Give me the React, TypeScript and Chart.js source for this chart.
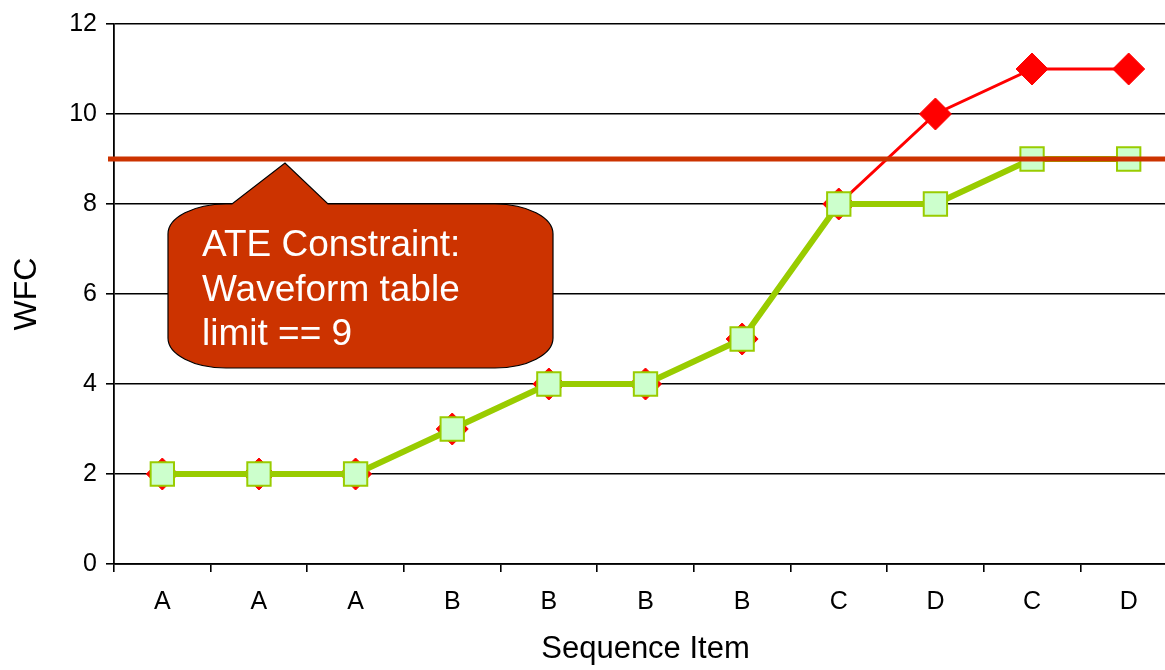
import { useEffect, useRef } from "react";
import { Chart, registerables } from "chart.js";

Chart.register(...registerables);

// Sequence items along the x axis
const categories = ["A", "A", "A", "B", "B", "B", "B", "C", "D", "C", "D"];
// Waveform count without the tester limit
const wfcUnconstrained = [2, 2, 2, 3, 4, 4, 5, 8, 10, 11, 11];
// Waveform count once the table limit is respected
const wfcConstrained = [2, 2, 2, 3, 4, 4, 5, 8, 8, 9, 9];
// Waveform table limit of the ATE
const wfcLimit = 9;
// Y axis range and step
const yMin = 0;
const yMax = 12;
const yStep = 2;
// Callout text
const calloutLines = ["ATE Constraint:", "Waveform table", "limit == 9"];

const FONT = "'Liberation Sans', Arial, Helvetica, sans-serif";

const limitCalloutPlugin = {
  id: "limitCallout",
  afterDatasetsDraw(chart: any) {
    const { ctx, chartArea, scales } = chart;
    const yLine = scales.y.getPixelForValue(wfcLimit);
    ctx.save();

    // horizontal constraint line
    ctx.strokeStyle = "#CC3300";
    ctx.lineWidth = 5;
    ctx.beginPath();
    ctx.moveTo(chartArea.left - 6, yLine);
    ctx.lineTo(chartArea.right, yLine);
    ctx.stroke();

    // speech-bubble callout
    const L = chartArea.left + 54;
    const R = chartArea.left + 439;
    const T = chartArea.top + 180;
    const B = chartArea.top + 344;
    const rx = 58;
    const ry = 30;
    const tailL = L + 64;
    const tailR = L + 160;
    const apexX = L + 117;
    const apexY = chartArea.top + 139;

    ctx.beginPath();
    ctx.moveTo(L + rx, T);
    ctx.lineTo(tailL, T);
    ctx.lineTo(apexX, apexY);
    ctx.lineTo(tailR, T);
    ctx.lineTo(R - rx, T);
    ctx.ellipse(R - rx, T + ry, rx, ry, 0, -Math.PI / 2, 0);
    ctx.lineTo(R, B - ry);
    ctx.ellipse(R - rx, B - ry, rx, ry, 0, 0, Math.PI / 2);
    ctx.lineTo(L + rx, B);
    ctx.ellipse(L + rx, B - ry, rx, ry, 0, Math.PI / 2, Math.PI);
    ctx.lineTo(L, T + ry);
    ctx.ellipse(L + rx, T + ry, rx, ry, 0, Math.PI, Math.PI * 1.5);
    ctx.closePath();
    ctx.fillStyle = "#CC3300";
    ctx.fill();
    ctx.strokeStyle = "#000000";
    ctx.lineWidth = 1.2;
    ctx.stroke();

    ctx.fillStyle = "#FFFFFF";
    ctx.font = `37px ${FONT}`;
    ctx.textAlign = "left";
    ctx.textBaseline = "alphabetic";
    calloutLines.forEach((line, i) => {
      ctx.fillText(line, L + 34, T + 52 + i * 44.5);
    });

    ctx.restore();
  },
};

export default function App() {
  const canvasRef = useRef<HTMLCanvasElement | null>(null);

  useEffect(() => {
    const canvas = canvasRef.current;
    if (!canvas) return;
    Chart.defaults.font.family = FONT;
    Chart.defaults.color = "#000000";

    const chart = new Chart(canvas, {
      type: "line",
      data: {
        labels: categories,
        datasets: [
          {
            label: "Constrained",
            data: wfcConstrained,
            order: 0,
            borderColor: "#99CC00",
            borderWidth: 6,
            pointStyle: "rect",
            pointRadius: 16.5,
            pointHoverRadius: 16.5,
            pointBackgroundColor: "#CCFFCC",
            pointBorderColor: "#99CC00",
            pointBorderWidth: 2,
            tension: 0,
            fill: false,
          },
          {
            label: "Unconstrained",
            data: wfcUnconstrained,
            order: 1,
            borderColor: "#FF0000",
            borderWidth: 3,
            pointStyle: "rectRot",
            pointRadius: 16,
            pointHoverRadius: 16,
            pointBackgroundColor: "#FF0000",
            pointBorderColor: "#FF0000",
            pointBorderWidth: 1,
            tension: 0,
            fill: false,
          },
        ],
      },
      options: {
        responsive: false,
        animation: false,
        events: [],
        layout: { padding: { top: 19, right: 23, left: 0, bottom: 0 } },
        plugins: {
          legend: { display: false },
          tooltip: { enabled: false },
        },
        scales: {
          x: {
            type: "category",
            offset: true,
            afterFit(scale: any) {
              scale.height = 106;
            },
            grid: {
              offset: true,
              drawOnChartArea: false,
              drawTicks: true,
              tickLength: 8,
              color: "#000000",
              lineWidth: 1.6,
            },
            border: { display: true, color: "#000000", width: 1.8 },
            ticks: {
              font: { size: 25 },
              color: "#000000",
              padding: 15,
              maxRotation: 0,
              autoSkip: false,
            },
            title: {
              display: true,
              text: "Sequence Item",
              font: { size: 31 },
              color: "#000000",
              padding: { top: 0, bottom: 2 },
            },
          },
          y: {
            min: yMin,
            max: yMax,
            afterFit(scale: any) {
              scale.width = 114;
            },
            grid: {
              color: "#000000",
              lineWidth: 1.6,
              drawTicks: true,
              tickLength: 8,
            },
            border: { display: true, color: "#000000", width: 1.8 },
            ticks: {
              stepSize: yStep,
              font: { size: 25 },
              color: "#000000",
              padding: 9,
            },
            title: {
              display: true,
              text: "WFC",
              font: { size: 32 },
              color: "#000000",
              padding: { top: 8, bottom: 0 },
            },
          },
        },
      },
      plugins: [limitCalloutPlugin],
    });

    return () => chart.destroy();
  }, []);

  return (
    <div
      style={{
        position: "absolute",
        left: 0,
        top: 0,
        width: 1165,
        height: 670,
        overflow: "hidden",
        background: "#FFFFFF",
      }}
    >
      <canvas ref={canvasRef} width={1200} height={670} style={{ display: "block" }} />
    </div>
  );
}
